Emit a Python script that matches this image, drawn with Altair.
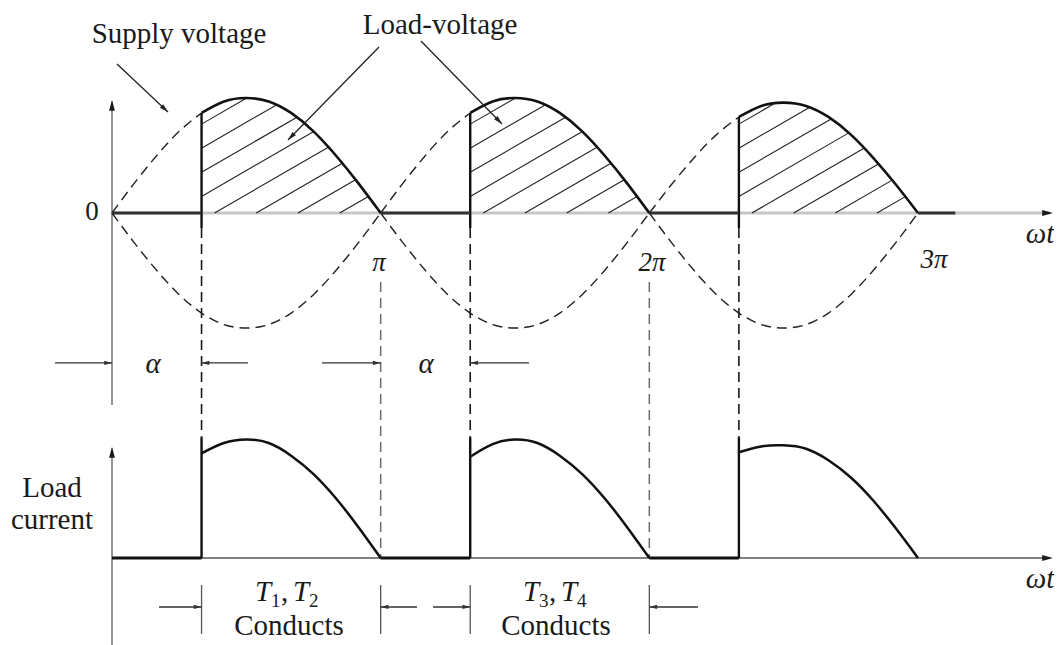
import math
import numpy as np
import pandas as pd
import altair as alt

# ------------------------------------------------------------------
# Values
# ------------------------------------------------------------------
ALPHA = 60                                   # firing angle (degrees)
HALF_DEG = [0, 15, 30, 45, 60, 75, 90, 105, 120, 135, 150, 165, 180]
HALF_SHAPE = [0.0, 0.26, 0.50, 0.71, 0.87, 0.97, 1.00, 0.97, 0.87, 0.71, 0.50, 0.26, 0.0]
HUMP_PEAK = [1.00, 1.00, 0.96]               # positive supply half-waves
TROUGH_PEAK = [1.00, 1.00, 1.00]             # mirrored (negative) half-waves
CUR_DEG = [60, 75, 90, 105, 120, 135, 150, 165, 180]
CURRENT = [
    [0.91, 1.00, 1.03, 1.00, 0.89, 0.73, 0.52, 0.27, 0.0],
    [0.88, 0.99, 1.03, 1.00, 0.89, 0.73, 0.52, 0.27, 0.0],
    [0.92, 0.97, 0.98, 0.95, 0.85, 0.70, 0.50, 0.26, 0.0],
]
CUR_AXIS = -3.0                              # load-current axis level
TAIL_END = 565                               # thick zero line after 3π ends here
X_END = 630.4                                # ωt axis arrow tip

TICK_TEXT = ["π", "2π", "3π"]
TICK_X = [178.9, 361.8, 550.7]
TICK_Y = [-0.50, -0.50, -0.48]

UPRIGHT_TEXT = ["Supply voltage", "Load-voltage", "Load", "current", "Conducts", "Conducts"]
UPRIGHT_X = [44.9, 219.8, -40.2, -40.2, 118.6, 297.5]
UPRIGHT_Y = [1.478, 1.557, -2.470, -2.748, -3.670, -3.670]

ITALIC_TEXT = ["ωt", "ωt", "α", "α"]
ITALIC_X = [621.7, 621.7, 27.5, 210.4]
ITALIC_Y = [-0.261, -3.261, -1.391, -1.391]

T_TEXT = ["T", "T", "T", "T"]
T_X = [95.8, 121.3, 275.4, 300.9]
T_Y = -3.375
SUB_TEXT = ["1", "2", "3", "4"]
SUB_X = [106.5, 132.0, 286.1, 311.6]
SUB_Y = -3.427
COMMA_X = [113.2, 292.8]

# ------------------------------------------------------------------
# Layout (scale set-up)
# ------------------------------------------------------------------
PX_DEG = 806 / 540.0
PX_UNIT = 115.0
W, H = 1046, 637
ORIGIN_X, ORIGIN_Y = 104, 205
XDOM = [-ORIGIN_X / PX_DEG, (W - ORIGIN_X) / PX_DEG]
YDOM = [-(H - ORIGIN_Y) / PX_UNIT, ORIGIN_Y / PX_UNIT]
FONT = "Liberation Serif, Times New Roman, serif"
INK = "#1a1a1a"
ARROW = "M0,0L-0.3,1.1L0.3,1.1Z"


def enc_x(f="x"):
    return alt.X(f"{f}:Q", scale=alt.Scale(domain=XDOM, nice=False, zero=False), axis=None)


def enc_y(f="y"):
    return alt.Y(f"{f}:Q", scale=alt.Scale(domain=YDOM, nice=False, zero=False), axis=None)


layers = []


def add_rules(rows, color, width, dash=None):
    df = pd.DataFrame(rows, columns=["x", "y", "x2", "y2"])
    props = dict(color=color, strokeWidth=width)
    if dash:
        props["strokeDash"] = dash
    layers.append(alt.Chart(df).mark_rule(**props).encode(
        x=enc_x(), y=enc_y(), x2=alt.X2("x2"), y2=alt.Y2("y2")))


def add_curves(curves, color, width, dash=None, interp="natural"):
    rows = []
    for s, (xs, ys) in enumerate(curves):
        for i, (a, b) in enumerate(zip(xs, ys)):
            rows.append({"s": s, "i": i, "x": float(a), "y": float(b)})
    props = dict(color=color, strokeWidth=width, interpolate=interp)
    if dash:
        props["strokeDash"] = dash
    layers.append(alt.Chart(pd.DataFrame(rows)).mark_line(**props).encode(
        x=enc_x(), y=enc_y(), detail="s:N", order="i:Q"))


def add_heads(rows, size, color=INK):
    out = []
    for xt, yt, xf, yf in rows:
        dxp = (xt - xf) * PX_DEG
        dyp = -(yt - yf) * PX_UNIT
        ang = math.degrees(math.atan2(dxp, -dyp)) % 360
        out.append({"x": xt, "y": yt, "a": ang})
    layers.append(alt.Chart(pd.DataFrame(out)).mark_point(
        shape=ARROW, filled=True, size=size, color=color, opacity=1, strokeWidth=0
    ).encode(x=enc_x(), y=enc_y(), angle=alt.Angle("a:Q", scale=None)))


def add_text(texts, xs, ys, size, italic=False, align="center"):
    df = pd.DataFrame({"t": texts, "x": xs, "y": ys})
    layers.append(alt.Chart(df).mark_text(
        font=FONT, fontSize=size, fontStyle="italic" if italic else "normal",
        align=align, baseline="alphabetic", color=INK
    ).encode(x=enc_x(), y=enc_y(), text="t:N"))


# ---------------- axes ----------------
add_rules([[0, 0, X_END - 2, 0]], "#c6c6c6", 3)
add_rules([[0, -1.67, 0, 0.97]], "#707070", 1.5)
add_rules([[0, CUR_AXIS, X_END - 2, CUR_AXIS]], "#555555", 1.5)
add_rules([[0, YDOM[0], 0, -2.05]], "#707070", 1.5)
add_heads([[X_END, 0, 0, 0], [0, 0.983, 0, 0], [X_END, CUR_AXIS, 0, CUR_AXIS],
           [0, -2.035, 0, CUR_AXIS]], 380)

# ---------------- supply voltage (dashed) ----------------
pos = []
neg = []
for k in range(3):
    xs = [k * 180 + d for d in HALF_DEG if d <= ALPHA]
    ys = [HUMP_PEAK[k] * v for d, v in zip(HALF_DEG, HALF_SHAPE) if d <= ALPHA]
    pos.append((xs, ys))
    neg.append(([k * 180 + d for d in HALF_DEG], [-TROUGH_PEAK[k] * v for v in HALF_SHAPE]))
add_curves(pos + neg, "#222222", 1.4, dash=[10, 6])

# ---------------- vertical guide lines ----------------
fire_top = HALF_SHAPE[HALF_DEG.index(ALPHA)]
add_rules([[k * 180 + ALPHA, -0.13, k * 180 + ALPHA, -1.95] for k in range(3)],
          "#1a1a1a", 1.6, dash=[10, 6])
add_rules([[180, -0.60, 180, CUR_AXIS], [360, -0.60, 360, CUR_AXIS]],
          "#6a6a6a", 1.5, dash=[10, 6])

# ---------------- hatching under load voltage ----------------
HATCH_SLOPE_PX = 0.578
HATCH_GAP_PX = 41.7
HATCH_PHASE_PX = 13.0
m = HATCH_SLOPE_PX * PX_DEG / PX_UNIT
gap = HATCH_GAP_PX / PX_DEG
hatch = []
for k in range(3):
    xs0 = k * 180 + ALPHA
    xs1 = k * 180 + 180
    grid = np.linspace(xs0, xs1, 1500)
    f = np.interp(grid - k * 180, HALF_DEG, HALF_SHAPE) * HUMP_PEAK[k]
    c0 = xs0 + HATCH_PHASE_PX / PX_DEG
    cs = []
    c = c0
    while m * (xs0 - c) < f[0] - 0.02:
        cs.append(c)
        c -= gap
    c = c0 + gap
    while c < xs1 - 1:
        cs.append(c)
        c += gap
    for c in cs:
        xa = max(xs0, c)
        ya = m * (xa - c)
        line = m * (grid - c)
        mask = (grid > xa + 0.2) & (line >= f)
        if not mask.any():
            continue
        i = int(np.argmax(mask))
        hatch.append([xa, ya, float(grid[i]), float(line[i])])
add_rules(hatch, "#222222", 1.1)

# ---------------- load voltage (solid) ----------------
lv = []
for k in range(3):
    xs = [k * 180 + d for d in HALF_DEG if d >= ALPHA]
    ys = [HUMP_PEAK[k] * v for d, v in zip(HALF_DEG, HALF_SHAPE) if d >= ALPHA]
    lv.append((xs, ys))
add_curves(lv, "#111111", 2.6)
add_rules([[k * 180 + ALPHA, HUMP_PEAK[k] * fire_top, k * 180 + ALPHA, -0.13] for k in range(3)],
          "#111111", 2.4)
add_rules([[0, 0, ALPHA, 0], [180, 0, 180 + ALPHA, 0], [360, 0, 360 + ALPHA, 0],
           [540, 0, TAIL_END, 0]], "#333333", 3.2)

# ---------------- load current ----------------
cur = []
for k in range(3):
    cur.append(([k * 180 + d for d in CUR_DEG], [CUR_AXIS + v for v in CURRENT[k]]))
add_curves(cur, "#111111", 2.5)
add_rules([[k * 180 + ALPHA, CUR_AXIS, k * 180 + ALPHA, -1.95] for k in range(3)],
          "#111111", 2.4)
add_rules([[0, CUR_AXIS, ALPHA, CUR_AXIS], [180, CUR_AXIS, 180 + ALPHA, CUR_AXIS],
           [360, CUR_AXIS, 360 + ALPHA, CUR_AXIS]], "#111111", 2.8)

# ---------------- α dimension arrows ----------------
A_Y = -1.304
alpha_arrows = [[0, A_Y, -38.2, A_Y], [ALPHA, A_Y, 91.1, A_Y],
                [180, A_Y, 140.7, A_Y], [180 + ALPHA, A_Y, 279.4, A_Y]]
add_rules([[xf, yf, xt, yt] for xt, yt, xf, yf in alpha_arrows], "#333333", 1.3)
add_heads(alpha_arrows, 200, "#333333")

# ---------------- conduction arrows & ticks ----------------
B_Y = -3.426
add_rules([[x, -3.235, x, -3.66] for x in [ALPHA, 180, 180 + ALPHA, 360]], "#555555", 1.3)
cond_arrows = [[ALPHA, B_Y, 31.5, B_Y], [180, B_Y, 204.3, B_Y],
               [180 + ALPHA, B_Y, 215.1, B_Y], [360, B_Y, 392.6, B_Y]]
add_rules([[xf, yf, xt, yt] for xt, yt, xf, yf in cond_arrows], "#333333", 1.3)
add_heads(cond_arrows, 200, "#333333")

# ---------------- label pointer arrows ----------------
pointers = [[37.5, 0.878, 3.35, 1.296], [117.9, 0.635, 178.9, 1.443], [261.3, 0.774, 207.0, 1.496]]
add_rules([[xf, yf, xt, yt] for xt, yt, xf, yf in pointers], "#222222", 1.3)
add_heads(pointers, 260, "#222222")

# ---------------- text ----------------
add_text(UPRIGHT_TEXT, UPRIGHT_X, UPRIGHT_Y, 29)
add_text(["0"], [-13.4], [-0.061], 27)
add_text(TICK_TEXT, TICK_X, TICK_Y, 27, italic=True)
add_text(ITALIC_TEXT, ITALIC_X, ITALIC_Y, 29, italic=True)
add_text(T_TEXT, T_X, [T_Y] * 4, 29, italic=True, align="left")
add_text(SUB_TEXT, SUB_X, [SUB_Y] * 4, 19, align="left")
add_text([",", ","], COMMA_X, [T_Y, T_Y], 29, align="left")

chart = alt.layer(*layers).properties(
    width=W, height=H, padding=0,
    autosize=alt.AutoSizeParams(type="none"),
    background="white",
).configure_view(stroke=None)

chart.save("out.html", embed_options={"renderer": "svg", "actions": False})
